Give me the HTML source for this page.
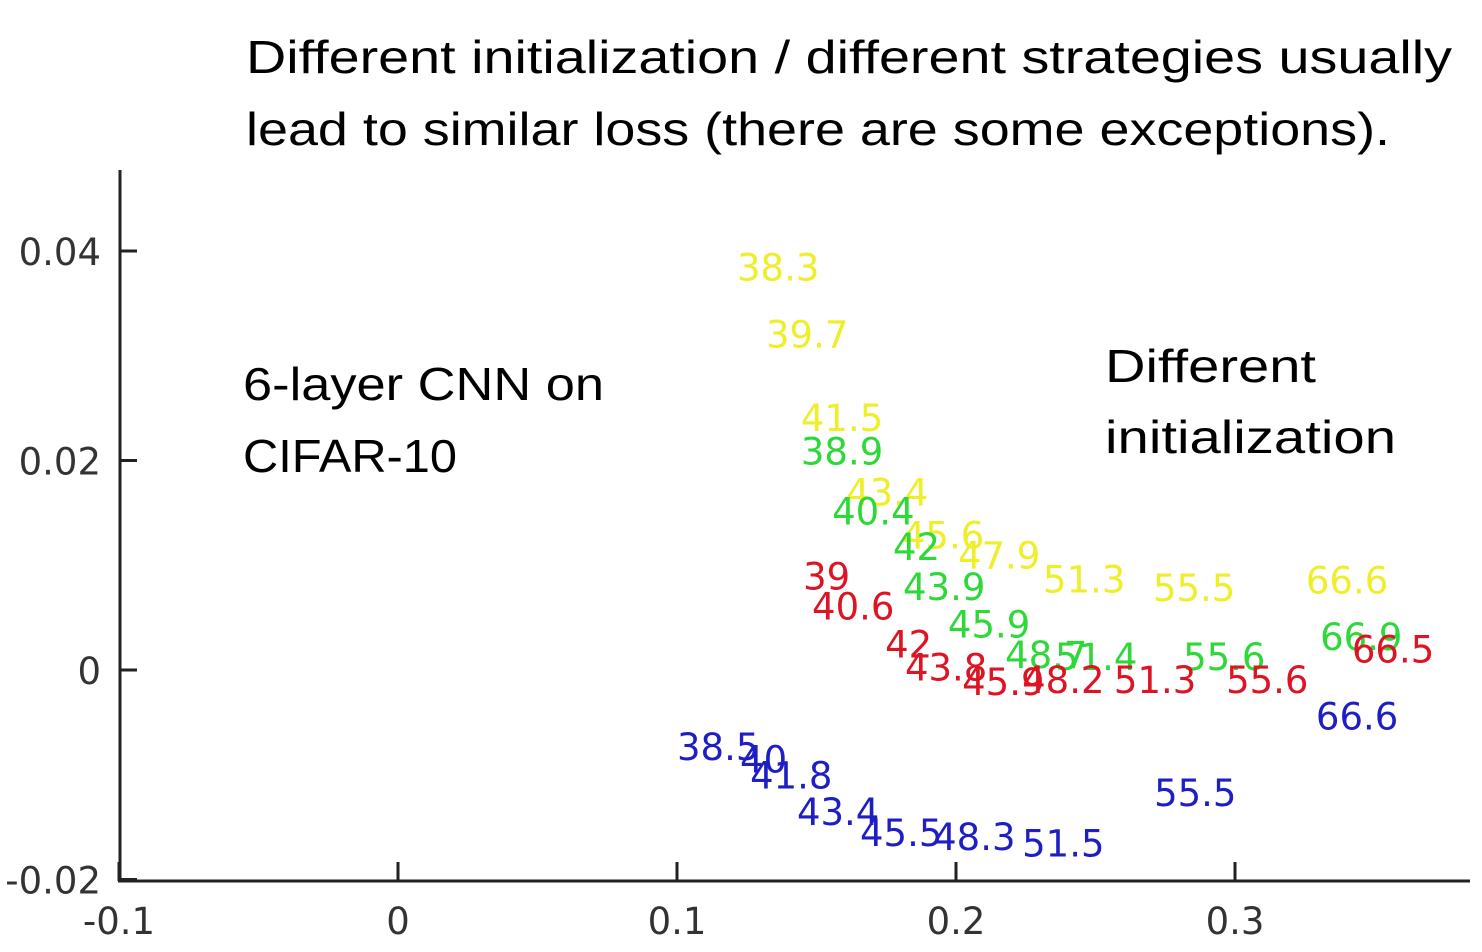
<!DOCTYPE html>
<html><head><meta charset="utf-8"><style>
html,body{margin:0;padding:0;background:#fff;}
svg{display:block;}
</style></head><body>
<svg id="chart" width="1482" height="952" xmlns="http://www.w3.org/2000/svg">
<text x="246" y="73" font-family="Liberation Sans, sans-serif" font-size="46" fill="#000" textLength="1206" lengthAdjust="spacingAndGlyphs">Different initialization / different strategies usually</text>
<text x="246" y="145" font-family="Liberation Sans, sans-serif" font-size="46" fill="#000" textLength="1144" lengthAdjust="spacingAndGlyphs">lead to similar loss (there are some exceptions).</text>
<text x="243" y="400" font-family="Liberation Sans, sans-serif" font-size="46" fill="#000" textLength="361" lengthAdjust="spacingAndGlyphs">6-layer CNN on</text>
<text x="243" y="472" font-family="Liberation Sans, sans-serif" font-size="46" fill="#000" textLength="214" lengthAdjust="spacingAndGlyphs">CIFAR-10</text>
<text x="1105" y="382" font-family="Liberation Sans, sans-serif" font-size="46" fill="#000" textLength="211" lengthAdjust="spacingAndGlyphs">Different</text>
<text x="1105" y="453" font-family="Liberation Sans, sans-serif" font-size="46" fill="#000" textLength="291" lengthAdjust="spacingAndGlyphs">initialization</text>
<g id="axes"></g>
<g id="marks"></g>
</svg>
<script>
const xTicks = [-0.1, 0, 0.1, 0.2, 0.3];
const xTickLabels = ["-0.1", "0", "0.1", "0.2", "0.3"];
const yTicks = [0.04, 0.02, 0, -0.02];
const yTickLabels = ["0.04", "0.02", "0", "-0.02"];

const yellowLabels = ["38.3","39.7","41.5","43.4","45.6","47.9","51.3","55.5","66.6"];
const yellowX = [0.1215,0.1319,0.1444,0.1606,0.1806,0.2007,0.2312,0.2706,0.3254];
const yellowY = [0.0372,0.0308,0.0228,0.0157,0.0116,0.0097,0.0074,0.0066,0.0073];

const greenLabels = ["38.9","40.4","42","43.9","45.9","48.7","51.4","55.6","66.9"];
const greenX = [0.1444,0.1556,0.1774,0.1810,0.1971,0.2176,0.2355,0.2814,0.3305];
const greenY = [0.0196,0.0139,0.0105,0.0067,0.0031,0.0002,0.0,0.0,0.0019];

const redLabels = ["39","40.6","42","43.8","45.9","48.2","51.3","55.6","66.5"];
const redX = [0.1452,0.1484,0.1746,0.1817,0.2022,0.2237,0.2566,0.2968,0.3419];
const redY = [0.0077,0.0048,0.0012,-0.0010,-0.0024,-0.0022,-0.0022,-0.0022,0.0007];

const blueLabels = ["38.5","40","41.8","43.4","45.5","48.3","51.5","55.5","66.6"];
const blueX = [0.1,0.1226,0.1262,0.1430,0.1656,0.1918,0.2237,0.2710,0.3290];
const blueY = [-0.0086,-0.0098,-0.0113,-0.0148,-0.0168,-0.0172,-0.0178,-0.0130,-0.0057];

const NS = "http://www.w3.org/2000/svg";
function sx(v){ return 398 + v * 2790; }
function sy(v){ return 670 - v * 10475; }
function mk(tag, attrs, parent){
  const e = document.createElementNS(NS, tag);
  for (const k in attrs) e.setAttribute(k, attrs[k]);
  parent.appendChild(e);
  return e;
}
const axes = document.getElementById("axes");
const marks = document.getElementById("marks");

let yAxis = mk("line", {x1:120, y1:170, x2:120, y2:882, stroke:"#222", "stroke-width":3}, axes);


let xAxis = mk("line", {x1:118, y1:881, x2:1470, y2:881, stroke:"#222", "stroke-width":3}, axes);



xTicks.forEach((t, i) => {
  const x = sx(t);
  const tk = mk("line", {x1:x, y1:862, x2:x, y2:881, stroke:"#222", "stroke-width":3}, axes);
  
  
  const lb = mk("text", {x:x, y:934, "text-anchor":"middle", "font-family":"DejaVu Sans, sans-serif", "font-size":37, fill:"#333"}, axes);
  lb.textContent = xTickLabels[i];
  
  
});
yTicks.forEach((t, i) => {
  const y = sy(t);
  const tk = mk("line", {x1:120, y1:y, x2:137, y2:y, stroke:"#222", "stroke-width":3}, axes);
  
  
  const lb = mk("text", {x:101, y:y + 14, "text-anchor":"end", "font-family":"DejaVu Sans, sans-serif", "font-size":37, fill:"#333"}, axes);
  lb.textContent = yTickLabels[i];
  
  
});

function drawSeries(labels, xs, ys, color, name){
  labels.forEach((l, i) => {
    const t = mk("text", {x:sx(xs[i]), y:sy(ys[i]), "font-family":"DejaVu Sans, sans-serif", "font-size":37, fill:color}, marks);
    t.textContent = l;
    
    
  });
}
drawSeries(yellowLabels, yellowX, yellowY, "#eeee2a", "yellow-point-label");
drawSeries(greenLabels, greenX, greenY, "#2ed838", "green-point-label");
drawSeries(redLabels, redX, redY, "#dc1424", "red-point-label");
drawSeries(blueLabels, blueX, blueY, "#1e1ec4", "blue-point-label");
</script>
</body></html>
